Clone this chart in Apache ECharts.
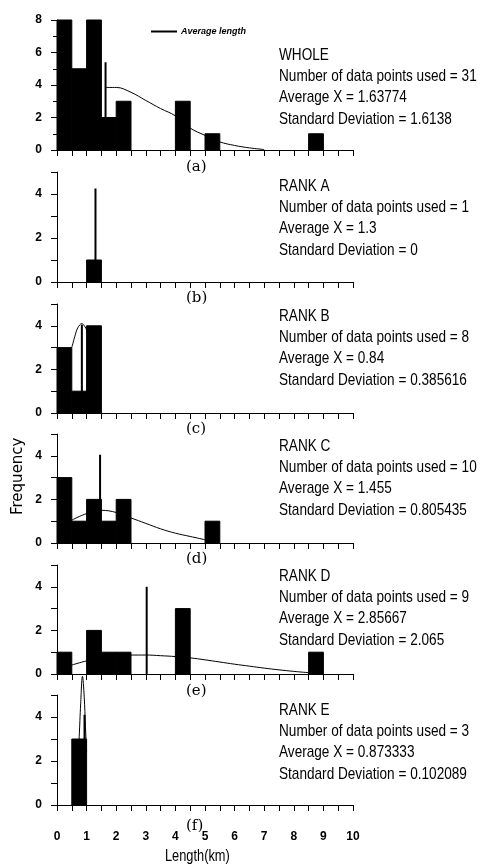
<!DOCTYPE html>
<html>
<head>
<meta charset="utf-8">
<script src="https://cdn.jsdelivr.net/npm/echarts@6/dist/echarts.min.js"></script>
<style>
  html, body { margin: 0; padding: 0; background: #fff; }
  #chart { width: 484px; height: 866px; }
</style>
</head>
<body>
<div id="chart"></div>
<script>
// ---- data ----
const binWidth = 0.5;
const panelNames = ['WHOLE', 'RANK A', 'RANK B', 'RANK C', 'RANK D', 'RANK E'];
const panelTags = ['(a)', '(b)', '(c)', '(d)', '(e)', '(f)'];
const pointsUsed = [31, 1, 8, 10, 9, 3];
const averageX = ['1.63774', '1.3', '0.84', '1.455', '2.85667', '0.873333'];
const stdDev = ['1.6138', '0', '0.385616', '0.805435', '2.065', '0.102089'];

// frequency per 0.5 km bin, 0..10 km
const wholeCounts = [8, 5, 8, 2, 3, 0, 0, 0, 3, 0, 1, 0, 0, 0, 0, 0, 0, 1, 0, 0];
const rankACounts = [0, 0, 1, 0, 0, 0, 0, 0, 0, 0, 0, 0, 0, 0, 0, 0, 0, 0, 0, 0];
const rankBCounts = [3, 1, 4, 0, 0, 0, 0, 0, 0, 0, 0, 0, 0, 0, 0, 0, 0, 0, 0, 0];
const rankCCounts = [3, 1, 2, 1, 2, 0, 0, 0, 0, 0, 1, 0, 0, 0, 0, 0, 0, 0, 0, 0];
const rankDCounts = [1, 0, 2, 1, 1, 0, 0, 0, 3, 0, 0, 0, 0, 0, 0, 0, 0, 1, 0, 0];
const rankECounts = [0, 3, 0, 0, 0, 0, 0, 0, 0, 0, 0, 0, 0, 0, 0, 0, 0, 0, 0, 0];

// fitted curves as traced
const wholeCurve = [[1.64, 3.85], [2, 3.85], [2.5, 3.55], [3, 3.05], [3.5, 2.55], [4, 2.1], [4.5, 1.35], [5, 0.9], [5.5, 0.5], [6, 0.28], [6.5, 0.13], [7, 0.03]];
const rankACurve = [];
const rankBCurve = [[0.5, 3.0], [0.6, 3.5], [0.7, 3.9], [0.84, 4.1], [0.95, 3.95], [1.0, 3.8], [1.2, 3.0], [1.3, 2.3]];
const rankCCurve = [[0.5, 1.05], [1, 1.35], [1.5, 1.5], [2, 1.4], [2.5, 1.15], [3, 0.9], [3.5, 0.65], [4, 0.45], [4.5, 0.3], [5, 0.15]];
const rankDCurve = [[0.5, 0.41], [1, 0.6], [1.5, 0.72], [2, 0.82], [2.5, 0.87], [3, 0.87], [3.5, 0.84], [4, 0.8], [4.5, 0.74], [5, 0.65], [5.5, 0.55], [6, 0.45], [6.5, 0.36], [7, 0.27], [7.5, 0.19], [8, 0.12], [8.5, 0.06]];
const rankECurve = [[0.6, 0.4], [0.7, 1.9], [0.75, 3.1], [0.8, 4.6], [0.86, 5.85], [0.92, 4.9], [0.96, 3.6], [1.0, 2.4]];

// average length marker: position and height
const avgLinePos = [1.64, 1.3, 0.84, 1.455, 3.03, 0.93];
const avgLineTop = [5.4, 4.25, 4.05, 4.05, 4.0, 4.1];

const xTickLabels = ['0', '1', '2', '3', '4', '5', '6', '7', '8', '9', '10'];
const yMax = [8, 5, 5, 5, 5, 5];

const allCounts = [wholeCounts, rankACounts, rankBCounts, rankCCounts, rankDCounts, rankECounts];
const allCurves = [wholeCurve, rankACurve, rankBCurve, rankCCurve, rankDCurve, rankECurve];

// ---- layout ----
const gridTops = [20, 172, 304, 434, 565, 695];
const gridHeights = [130, 110, 109, 109, 109, 110];
const textTops = [55, 186, 316, 446, 576, 710];
const tagTops = [167, 298, 429, 559, 691, 826];

const sans = "'Liberation Sans', Arial, sans-serif";
const chart = echarts.init(document.getElementById('chart'));

const grids = [], xAxes = [], yAxes = [], series = [], graphics = [];

allCounts.forEach((counts, i) => {
  const last = i === allCounts.length - 1;
  grids.push({ left: 57, width: 296, top: gridTops[i], height: gridHeights[i] });
  xAxes.push({
    type: 'value', gridIndex: i, min: 0, max: 10, interval: 1,
    axisLine: { lineStyle: { color: '#000', width: 1 } },
    axisTick: { show: true, length: 6, lineStyle: { color: '#000' } },
    minorTick: { show: true, splitNumber: 2, length: 6, lineStyle: { color: '#000' } },
    splitLine: { show: false },
    axisLabel: {
      show: last, margin: 26, color: '#000', fontFamily: sans, fontWeight: 'bold', fontSize: 12,
      formatter: v => xTickLabels[Math.round(v)]
    }
  });
  yAxes.push({
    type: 'value', gridIndex: i, min: 0, max: yMax[i], interval: i === 0 ? 2 : 1,
    axisLine: { show: true, lineStyle: { color: '#000', width: 1 } },
    axisTick: { show: true, length: 6, lineStyle: { color: '#000' } },
    minorTick: { show: i === 0, splitNumber: 2, length: 4, lineStyle: { color: '#000' } },
    splitLine: { show: false },
    axisLabel: {
      margin: 15, color: '#000', fontFamily: sans, fontWeight: 'bold', fontSize: 12,
      formatter: v => (v % 2 === 0 && (i === 0 || v < yMax[i]) ? String(v) : '')
    }
  });

  series.push({
    type: 'custom', xAxisIndex: i, yAxisIndex: i, z: 3,
    data: counts.map((c, k) => [k * binWidth, (k + 1) * binWidth, c]).filter(d => d[2] > 0),
    renderItem: (params, api) => {
      const p0 = api.coord([api.value(0), api.value(2)]);
      const p1 = api.coord([api.value(1), 0]);
      return {
        type: 'rect',
        shape: { x: p0[0], y: p0[1], width: p1[0] - p0[0], height: p1[1] - p0[1] },
        style: { fill: '#000', stroke: '#000', lineWidth: 1 }
      };
    }
  });
  if (allCurves[i].length) {
    series.push({
      type: 'line', xAxisIndex: i, yAxisIndex: i, z: 2, smooth: 0.4, clip: false,
      showSymbol: false, data: allCurves[i], lineStyle: { color: '#000', width: 1 }
    });
  }
  series.push({
    name: 'Average length', type: 'line', xAxisIndex: i, yAxisIndex: i, z: 4,
    showSymbol: false, clip: false,
    data: [[avgLinePos[i], 0], [avgLinePos[i], avgLineTop[i]]],
    lineStyle: { color: '#000', width: 2 }, itemStyle: { color: '#000' }
  });

  // stats block on the right, condensed like the original narrow face
  const lines = [panelNames[i], 'Number of data points used = ' + pointsUsed[i],
    'Average X = ' + averageX[i], 'Standard Deviation = ' + stdDev[i]];
  lines.forEach((t, k) => {
    graphics.push({
      type: 'text', x: 279, y: textTops[i] + k * 21.3, scaleX: 0.8,
      style: { text: t, fill: '#000', font: '17px ' + sans, verticalAlign: 'middle' }
    });
  });
  graphics.push({
    type: 'text', x: 186, y: tagTops[i],
    style: { text: panelTags[i], fill: '#000', font: '15px "DejaVu Serif", serif', verticalAlign: 'middle' }
  });
});

graphics.push({
  type: 'text', x: 165, y: 857, scaleX: 0.8,
  style: { text: 'Length(km)', fill: '#000', font: '16px ' + sans, verticalAlign: 'middle' }
});
graphics.push({
  type: 'text', x: 11, y: 515, rotation: Math.PI / 2,
  style: { text: 'Frequency', fill: '#000', font: '15px "DejaVu Sans", sans-serif' }
});

chart.setOption({
  animation: false,
  backgroundColor: '#fff',
  legend: {
    data: ['Average length'], left: 146, top: 22, selectedMode: false,
    icon: 'rect', itemWidth: 26, itemHeight: 2, itemGap: 4,
    textStyle: { fontFamily: sans, fontSize: 9, fontStyle: 'italic', fontWeight: 'bold', color: '#000', padding: [0, 0, 0, -1] }
  },
  grid: grids, xAxis: xAxes, yAxis: yAxes, series: series, graphic: graphics
});
</script>
</body>
</html>
